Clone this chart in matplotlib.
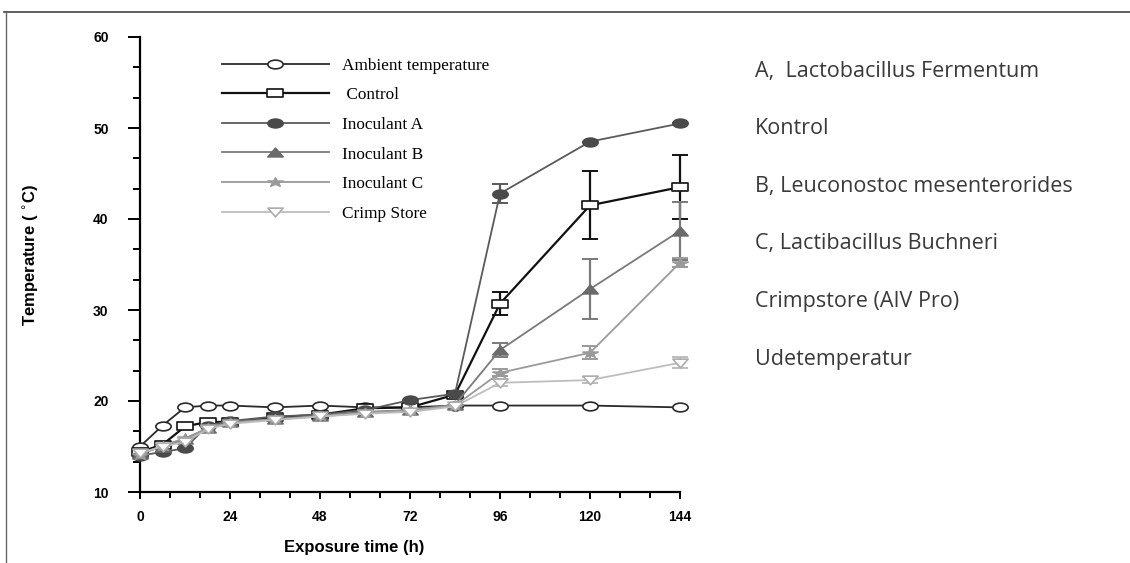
import matplotlib
matplotlib.use('Agg')
import matplotlib.pyplot as plt
from matplotlib.markers import MarkerStyle
from matplotlib.transforms import Affine2D
from matplotlib.lines import Line2D

hours = [0, 6, 12, 18, 24, 36, 48, 60, 72, 84, 96, 120, 144]
ambient = [15.0, 17.3, 19.3, 19.5, 19.5, 19.3, 19.5, 19.3, 19.3, 19.5, 19.5, 19.5, 19.3]
control = [14.4, 15.2, 17.2, 17.7, 17.7, 18.2, 18.5, 19.2, 19.3, 20.7, 30.7, 41.5, 43.5]
inoc_a = [14.0, 14.4, 14.8, 17.3, 17.8, 18.3, 18.5, 19.0, 20.1, 20.8, 42.8, 48.5, 50.5]
inoc_b = [14.2, 15.0, 15.8, 17.0, 17.7, 18.0, 18.4, 18.8, 19.0, 19.6, 25.6, 32.3, 38.7]
inoc_c = [14.1, 15.1, 15.9, 17.0, 17.6, 18.0, 18.3, 18.7, 19.0, 19.5, 23.1, 25.3, 35.2]
crimp = [14.3, 15.0, 15.5, 16.9, 17.5, 17.9, 18.3, 18.6, 18.8, 19.4, 22.0, 22.3, 24.2]

# error bars only shown for the last three sampling times
err_hours = [96, 120, 144]
control_err = [1.3, 3.75, 3.5]
a_err = [1.0, 0.0, 0.0]
b_err = [0.75, 3.3, 3.2]
c_err = [0.4, 0.7, 0.5]
crimp_err = [0.4, 0.3, 0.6]

notes = ["A,  Lactobacillus Fermentum", "Kontrol", "B, Leuconostoc mesenterorides",
         "C, Lactibacillus Buchneri", "Crimpstore (AIV Pro)", "Udetemperatur"]


def _wide(marker, sx=1.75):
    """Marker squashed horizontally like the scanned figure."""
    ms = MarkerStyle(marker)
    path = ms.get_path().transformed(ms.get_transform())
    return path.transformed(Affine2D().scale(sx, 1))


SERIES = [
    # label, values, errors, marker, line color, face color, edge color, lw
    ("Ambient temperature", ambient, None, "o", "#2a2a2a", "white", "#2a2a2a", 1.3),
    (" Control", control, control_err, "s", "#111111", "white", "#111111", 1.6),
    ("Inoculant A", inoc_a, a_err, "o", "#5a5a5a", "#4a4a4a", "#4a4a4a", 1.3),
    ("Inoculant B", inoc_b, b_err, "^", "#7a7a7a", "#6a6a6a", "#6a6a6a", 1.3),
    ("Inoculant C", inoc_c, c_err, "*", "#9a9a9a", "#9a9a9a", "#9a9a9a", 1.3),
    ("Crimp Store", crimp, crimp_err, "v", "#bdbdbd", "white", "#adadad", 1.3),
]

fig = plt.figure(figsize=(11.3, 5.63), dpi=100)
ax = fig.add_axes([140 / 1130, 1 - 492 / 563, 540 / 1130, 455 / 563])

handles = []
for label, values, errs, marker, lc, fc, ec, lw in SERIES:
    if errs is not None:
        ax.errorbar(err_hours, values[-3:], yerr=errs, fmt="none", ecolor=lc,
                    elinewidth=1.6, capsize=5.5, capthick=1.4, clip_on=False, zorder=2)
    line, = ax.plot(hours, values, color=lc, lw=lw, marker=_wide(marker), ms=11,
                    mfc=fc, mec=ec, mew=1.2, clip_on=False, zorder=3, label=label)
    handles.append(line)

ax.set_xlim(0, 144)
ax.set_ylim(10, 60)
ax.spines["top"].set_visible(False)
ax.spines["right"].set_visible(False)
ax.spines["left"].set_linewidth(1.6)
ax.spines["bottom"].set_linewidth(1.6)

ax.set_xticks(range(0, 145, 24))
ax.set_xticks(range(0, 145, 8), minor=True)
ax.set_yticks(range(10, 61, 10))
ax.set_yticks([10 + i * 10 / 3 for i in range(16)], minor=True)
ax.tick_params(axis="x", which="major", length=5, width=1.4, pad=8, labelsize=10)
ax.tick_params(axis="x", which="minor", length=4, width=1.4)
ax.tick_params(axis="y", which="major", length=8.6, width=1.4, pad=14, labelsize=10)
ax.tick_params(axis="y", which="minor", length=5, width=1.4)
for t in ax.get_xticklabels() + ax.get_yticklabels():
    t.set_fontweight("bold")
    t.set_fontfamily("Liberation Sans")

ax.set_xlabel("Exposure time (h)", fontsize=12, fontweight="bold", family="Liberation Sans")
ax.set_ylabel("Temperature ( $^{\\circ}$C)", fontsize=12, fontweight="bold", family="Liberation Sans")
ax.xaxis.set_label_coords(0.397, -0.105)
ax.yaxis.set_label_coords(-0.183, 0.52)

leg = ax.legend(handles=handles, loc="upper left", bbox_to_anchor=(0.152, 0.955), frameon=False,
                prop={"family": "Liberation Serif", "size": 12.4}, handlelength=6.2,
                handletextpad=0.75, labelspacing=0.79, borderaxespad=0, borderpad=0)

for i, txt in enumerate(notes):
    fig.text(755 / 1130, 1 - (77 + i * 57.5) / 563, txt, fontsize=15.5, family="Open Sans",
             color="#3a3a3a", va="baseline")

# frame of the scanned slide
fig.add_artist(Line2D([4 / 1130, 1], [1 - 12 / 563] * 2, color="#444444", lw=1.2))
fig.add_artist(Line2D([6 / 1130] * 2, [0, 1 - 12 / 563], color="#666666", lw=1.0))

fig.savefig("out.png", dpi=100)
